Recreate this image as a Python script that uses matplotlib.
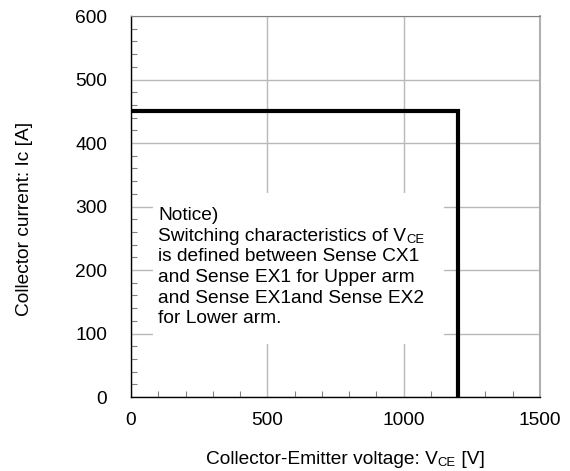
import matplotlib
matplotlib.use('Agg')
import matplotlib.pyplot as plt
from matplotlib.patches import Rectangle
from matplotlib.ticker import MultipleLocator
from matplotlib.transforms import offset_copy

plt.rcParams['font.family'] = ['Liberation Sans', 'DejaVu Sans']

# reverse bias safe operating area boundary
vce = [0, 1200, 1200]
ic = [450, 450, 0]

x_ticks = [0, 500, 1000, 1500]
y_ticks = [0, 100, 200, 300, 400, 500, 600]

# (text, subscript, text after subscript)
notice_lines = [
    ('Notice)', '', ''),
    ('Switching characteristics of V', 'CE', ''),
    ('is defined between Sense CX1', '', ''),
    ('and Sense EX1 for Upper arm', '', ''),
    ('and Sense EX1and Sense EX2', '', ''),
    ('for Lower arm.', '', ''),
]
x_label = ('Collector-Emitter voltage: V', 'CE', ' [V]')
y_label = 'Collector current: Ic [A]'

fs = 13.8
sub_fs = fs * 0.68

fig = plt.figure(figsize=(5.7, 4.71), dpi=100)
ax = fig.add_axes([0.2298, 0.1571, 0.7175, 0.8089])
renderer = fig.canvas.get_renderer()


def put_text(x, y, parts, transform, **kw):
    '''Write main text, a small lowered subscript and a tail on one baseline.'''
    main, sub, tail = parts
    t = fig.text(x, y, main, transform=transform, fontsize=fs,
                 va='baseline', ha='left', **kw)
    if not sub:
        return t
    w = t.get_window_extent(renderer).width
    tr = offset_copy(transform, fig=fig, x=w * 72 / fig.dpi, y=-1.5, units='points')
    s = fig.text(x, y, sub, transform=tr, fontsize=sub_fs,
                 va='baseline', ha='left', **kw)
    if tail:
        w2 = w + s.get_window_extent(renderer).width
        tr2 = offset_copy(transform, fig=fig, x=w2 * 72 / fig.dpi, y=0, units='points')
        fig.text(x, y, tail, transform=tr2, fontsize=fs,
                 va='baseline', ha='left', **kw)
    return t


ax.set_xlim(0, 1500)
ax.set_ylim(0, 600)
ax.set_xticks(x_ticks)
ax.set_yticks(y_ticks)
ax.xaxis.set_minor_locator(MultipleLocator(100))
ax.yaxis.set_minor_locator(MultipleLocator(20))
ax.tick_params(which='major', length=0, labelsize=fs)
ax.tick_params(axis='y', which='major', pad=17)
ax.tick_params(axis='x', which='major', pad=11)
ax.tick_params(which='minor', direction='in', length=4, color='#808080', width=0.8)

ax.grid(True, which='major', color='#b8b8b8', lw=1.0, zorder=0)
ax.set_axisbelow(True)

for side in ('left', 'bottom'):
    ax.spines[side].set_color('black')
    ax.spines[side].set_linewidth(1.0)
ax.spines['top'].set_color('#808080')
ax.spines['right'].set_color('#b0b0b0')
ax.spines['right'].set_linewidth(1.5)

# white panel behind the notice text
ax.add_patch(Rectangle((81, 83), 1066, 238, facecolor='white',
                       edgecolor='none', zorder=1))

ax.plot(vce, ic, color='black', lw=3.0, solid_joinstyle='miter', zorder=3)

for i, parts in enumerate(notice_lines):
    put_text(100, 279 - i * 32.6, parts, ax.transData, zorder=2)

fig.text(25 / 570, 1 - 219 / 471, y_label, rotation=90,
         ha='center', va='center', fontsize=fs)
put_text(206 / 570, 1 - 464 / 471, x_label, fig.transFigure)

fig.savefig('out.png', dpi=100)
